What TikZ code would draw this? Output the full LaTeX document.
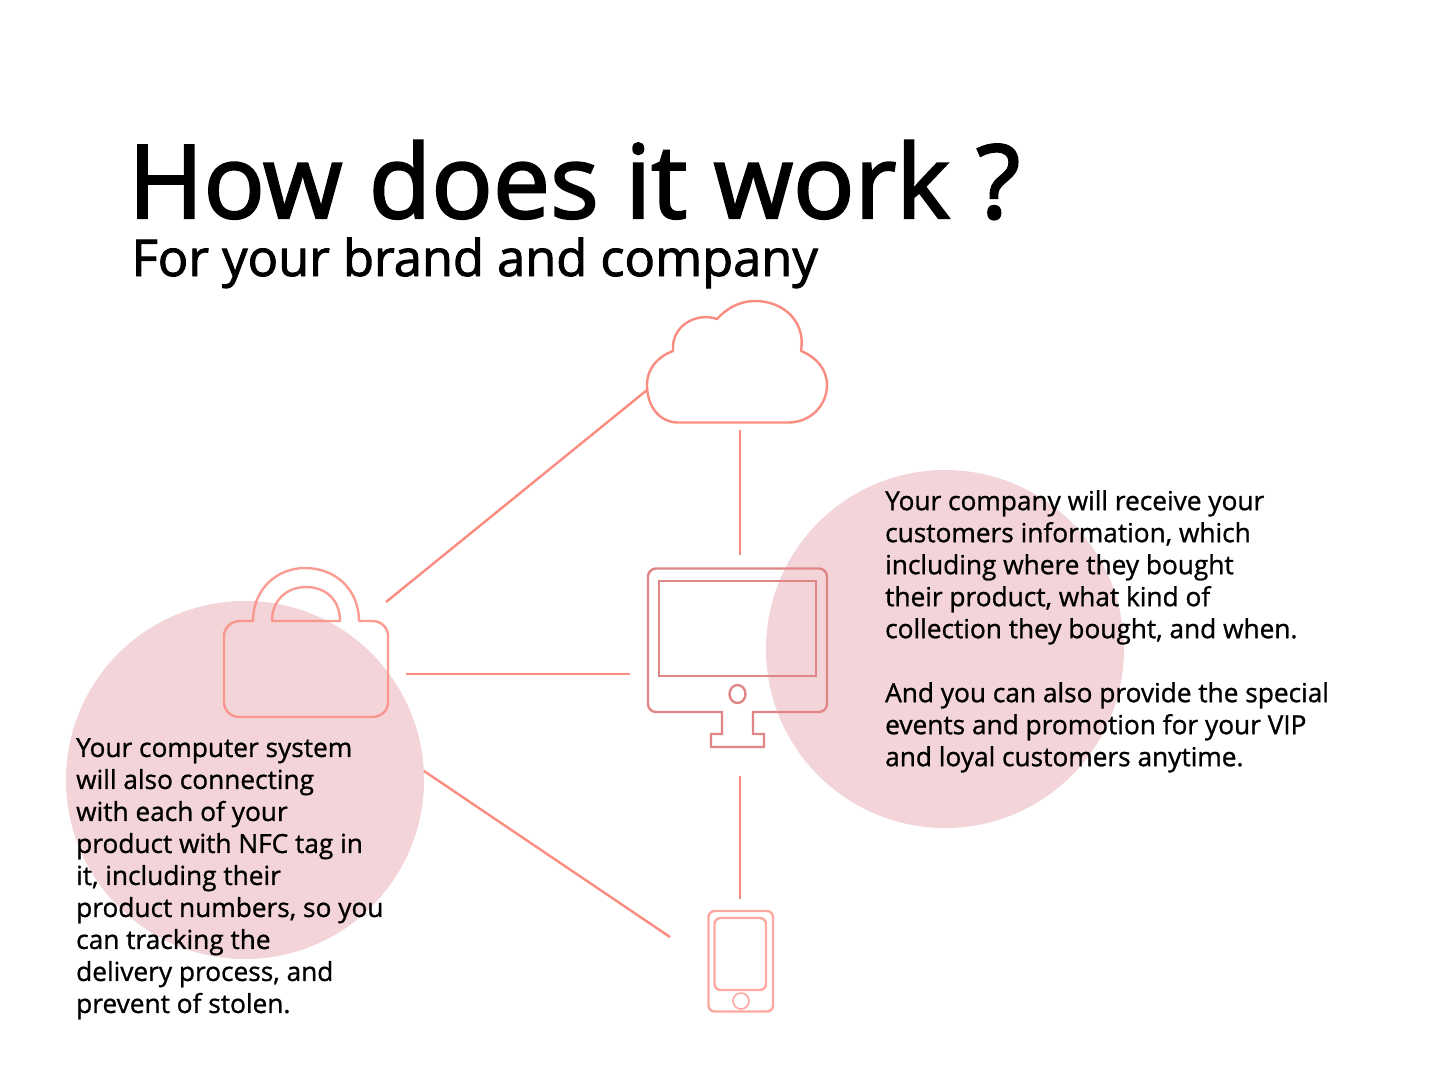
\documentclass[tikz,border=0pt]{standalone}
\usepackage{fontspec}
\setmainfont{Open Sans}[FakeBold=1.0]
\newfontfamily\headfont{Open Sans}[FakeBold=2.2]
\newfontfamily\subfont{Open Sans}[FakeBold=1.8]
\definecolor{salmon}{HTML}{FB8C80}
\definecolor{mon}{HTML}{E08686}
\definecolor{phonec}{HTML}{FDA8A0}
\definecolor{blob}{HTML}{F3D4D8}
\tikzset{
  icon/.style={draw=salmon,line width=2.4pt,line join=round},
  link/.style={draw=salmon,line width=2.4pt},
  blobc/.style={circle,fill=blob,draw=none,minimum size=358pt,inner sep=0pt},
  body/.style={anchor=north west,align=left,inner sep=0pt,font=\fontsize{26.25}{32}\selectfont},
}
\begin{document}
\begin{tikzpicture}[x=1pt,y=-1pt]
\useasboundingbox (0,0) rectangle (1440,1080);
\fill[white] (0,0) rectangle (1440,1080);
\node[blobc] (leftblob) at (245,780) {};
\node[blobc] (rightblob) at (945,649) {};
% cloud
\draw[icon] (678,422.5) -- (788,422.5) .. controls (811,422.5) and (827,405) .. (827,385)
  .. controls (827,369) and (816,357) .. (801,351)
  .. controls (806,322) and (784,301) .. (755,301)
  .. controls (739,301) and (726,309) .. (717,319)
  .. controls (697,312) and (671,325) .. (673,351)
  .. controls (657,357) and (647,369) .. (647,385)
  .. controls (647,407) and (660,422.5) .. (678,422.5) -- cycle;
% monitor
\draw[draw=mon,line width=2.4pt,line join=miter]
  (656,568.5) -- (819,568.5) arc[start angle=90,end angle=0,x radius=8,y radius=-8]
  -- (827,704) arc[start angle=0,end angle=-90,x radius=8,y radius=-8]
  -- (753,712) -- (753,734) -- (764,734) -- (764,747) -- (711,747) -- (711,734) -- (722,734) -- (722,712)
  -- (656,712) arc[start angle=-90,end angle=-180,x radius=8,y radius=-8]
  -- (648,576.5) arc[start angle=180,end angle=90,x radius=8,y radius=-8] -- cycle;
\draw[draw=mon,line width=2.4pt] (659,581) rectangle (816,676);
\draw[draw=mon,line width=2.4pt] (737.5,694) ellipse[x radius=8,y radius=9];
% lock
\draw[icon,opacity=.85] (253,621) .. controls (253,590) and (276,568) .. (305,568)
  .. controls (336,568) and (359,590) .. (359,621) -- (372,621)
  .. controls (382,621) and (388,628) .. (388,636) -- (388,702)
  .. controls (388,711) and (381,717) .. (372,717) -- (240,717)
  .. controls (231,717) and (224,711) .. (224,702) -- (224,636)
  .. controls (224,628) and (231,621) .. (240,621) -- cycle;
\draw[icon,opacity=.85] (272,621) .. controls (272,600) and (287,587) .. (306,587)
  .. controls (326,587) and (340,600) .. (340,621) -- cycle;
% phone
\draw[draw=phonec,line width=2.4pt,rounded corners=6pt] (708.5,911) rectangle (773,1011.5);
\draw[draw=phonec,line width=2.4pt,rounded corners=6pt] (714.5,918) rectangle (766,990);
\draw[draw=phonec,line width=1.6pt] (741,1001) circle[radius=8];
% connectors
\coordinate (cloudL) at (647,390);
\coordinate (lockR) at (386,602);
\coordinate (cloudB) at (740,430);
\coordinate (monT) at (740,555);
\coordinate (lockE) at (406,674);
\coordinate (monL) at (630,674);
\coordinate (monB) at (740,776);
\coordinate (phoneT) at (740,899);
\coordinate (blobR) at (424,771);
\coordinate (phoneL) at (670,937);
\draw[link] (cloudL) -- (lockR);
\draw[link] (cloudB) -- (monT);
\draw[link] (lockE) -- (monL);
\draw[link] (monB) -- (phoneT);
\draw[link] (blobR) -- (phoneL);
% text
\node[anchor=base west,inner sep=0pt,font=\fontsize{102}{110}\selectfont\headfont] (title) at (128,218) {How does it work ?};
\node[anchor=base west,inner sep=0pt,font=\fontsize{50.6}{56}\selectfont\subfont] (subtitle) at (131.5,276) {For your brand and company};
\node[body] (righttext) at (885,490) {Your company will receive your\\customers information, which\\including where they bought\\their product, what kind of\\collection they bought, and when.\\[32pt]And you can also provide the special\\events and promotion for your VIP\\and loyal customers anytime.};
\node[body] (lefttext) at (76,738) {Your computer system\\will also connecting\\with each of your\\product with NFC tag in\\it, including their\\product numbers, so you\\can tracking the\\delivery process, and\\prevent of stolen.};
\end{tikzpicture}
\end{document}
